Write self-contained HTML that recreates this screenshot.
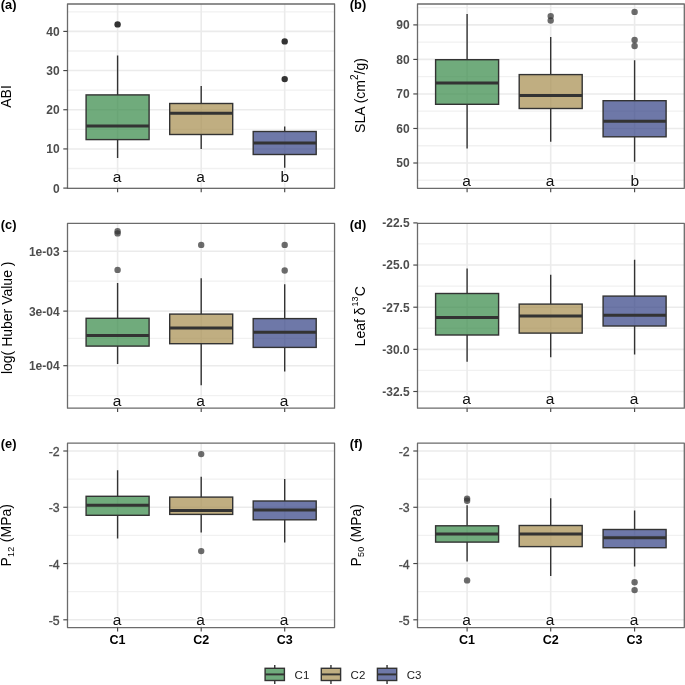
<!DOCTYPE html>
<html><head><meta charset="utf-8"><style>
html,body{margin:0;padding:0;background:#fff;}
svg{display:block;font-family:"Liberation Sans", sans-serif;will-change:transform;}
</style></head><body>
<svg width="685" height="685" viewBox="0 0 685 685">
<rect width="685" height="685" fill="#fff"/>
<clipPath id="cpa"><rect x="67.5" y="4.0" width="267.05" height="184.35"/></clipPath>
<g clip-path="url(#cpa)">
<line x1="67.5" x2="334.55" y1="168.51" y2="168.51" stroke="#f1f1f1" stroke-width="1.3"/>
<line x1="67.5" x2="334.55" y1="129.34" y2="129.34" stroke="#f1f1f1" stroke-width="1.3"/>
<line x1="67.5" x2="334.55" y1="90.16" y2="90.16" stroke="#f1f1f1" stroke-width="1.3"/>
<line x1="67.5" x2="334.55" y1="50.99" y2="50.99" stroke="#f1f1f1" stroke-width="1.3"/>
<line x1="67.5" x2="334.55" y1="11.81" y2="11.81" stroke="#f1f1f1" stroke-width="1.3"/>
<line x1="67.5" x2="334.55" y1="188.10" y2="188.10" stroke="#ebebeb" stroke-width="1.6"/>
<line x1="67.5" x2="334.55" y1="148.93" y2="148.93" stroke="#ebebeb" stroke-width="1.6"/>
<line x1="67.5" x2="334.55" y1="109.75" y2="109.75" stroke="#ebebeb" stroke-width="1.6"/>
<line x1="67.5" x2="334.55" y1="70.57" y2="70.57" stroke="#ebebeb" stroke-width="1.6"/>
<line x1="67.5" x2="334.55" y1="31.40" y2="31.40" stroke="#ebebeb" stroke-width="1.6"/>
<line x1="117.6" x2="117.6" y1="4.0" y2="188.35" stroke="#ebebeb" stroke-width="1.6"/>
<line x1="201.2" x2="201.2" y1="4.0" y2="188.35" stroke="#ebebeb" stroke-width="1.6"/>
<line x1="284.7" x2="284.7" y1="4.0" y2="188.35" stroke="#ebebeb" stroke-width="1.6"/>
<line x1="117.6" x2="117.6" y1="55.6" y2="94.9" stroke="#333333" stroke-width="1.4"/>
<line x1="117.6" x2="117.6" y1="139.6" y2="158.0" stroke="#333333" stroke-width="1.4"/>
<rect x="86.10" y="94.9" width="63.0" height="44.70" fill="#338845" fill-opacity="0.7" stroke="#333333" stroke-width="1.4"/>
<line x1="86.10" x2="149.10" y1="125.9" y2="125.9" stroke="#333333" stroke-width="3.0"/>
<circle cx="117.6" cy="24.4" r="3.2" fill="#333333"/>
<text x="117.00" y="182.2" text-anchor="middle" font-size="15.5" fill="#111" stroke="#fff" stroke-width="2" paint-order="stroke">a</text>
<line x1="201.2" x2="201.2" y1="86.0" y2="103.5" stroke="#333333" stroke-width="1.4"/>
<line x1="201.2" x2="201.2" y1="134.5" y2="149.0" stroke="#333333" stroke-width="1.4"/>
<rect x="169.70" y="103.5" width="63.0" height="31.00" fill="#a58b4c" fill-opacity="0.7" stroke="#333333" stroke-width="1.4"/>
<line x1="169.70" x2="232.70" y1="113.2" y2="113.2" stroke="#333333" stroke-width="3.0"/>
<text x="200.60" y="182.2" text-anchor="middle" font-size="15.5" fill="#111" stroke="#fff" stroke-width="2" paint-order="stroke">a</text>
<line x1="284.7" x2="284.7" y1="126.4" y2="131.5" stroke="#333333" stroke-width="1.4"/>
<line x1="284.7" x2="284.7" y1="154.5" y2="167.8" stroke="#333333" stroke-width="1.4"/>
<rect x="253.20" y="131.5" width="63.0" height="23.00" fill="#303e83" fill-opacity="0.7" stroke="#333333" stroke-width="1.4"/>
<line x1="253.20" x2="316.20" y1="142.9" y2="142.9" stroke="#333333" stroke-width="3.0"/>
<circle cx="284.7" cy="41.4" r="3.2" fill="#333333"/>
<circle cx="284.7" cy="79.1" r="3.2" fill="#333333"/>
<text x="284.90" y="182.2" text-anchor="middle" font-size="15.5" fill="#111" stroke="#fff" stroke-width="2" paint-order="stroke">b</text>
</g>
<rect x="67.5" y="4.0" width="267.05" height="184.35" fill="none" stroke="#6b6b6b" stroke-width="1.3" stroke-linejoin="round"/>
<line x1="63.30" x2="67.5" y1="188.10" y2="188.10" stroke="#454545" stroke-width="1.15"/>
<text x="59.60" y="192.50" text-anchor="end" font-size="12" font-weight="bold" fill="#4d4d4d">0</text>
<line x1="63.30" x2="67.5" y1="148.93" y2="148.93" stroke="#454545" stroke-width="1.15"/>
<text x="59.60" y="153.33" text-anchor="end" font-size="12" font-weight="bold" fill="#4d4d4d">10</text>
<line x1="63.30" x2="67.5" y1="109.75" y2="109.75" stroke="#454545" stroke-width="1.15"/>
<text x="59.60" y="114.15" text-anchor="end" font-size="12" font-weight="bold" fill="#4d4d4d">20</text>
<line x1="63.30" x2="67.5" y1="70.57" y2="70.57" stroke="#454545" stroke-width="1.15"/>
<text x="59.60" y="74.97" text-anchor="end" font-size="12" font-weight="bold" fill="#4d4d4d">30</text>
<line x1="63.30" x2="67.5" y1="31.40" y2="31.40" stroke="#454545" stroke-width="1.15"/>
<text x="59.60" y="35.80" text-anchor="end" font-size="12" font-weight="bold" fill="#4d4d4d">40</text>
<line x1="117.6" x2="117.6" y1="188.35" y2="192.15" stroke="#454545" stroke-width="1.15"/>
<line x1="201.2" x2="201.2" y1="188.35" y2="192.15" stroke="#454545" stroke-width="1.15"/>
<line x1="284.7" x2="284.7" y1="188.35" y2="192.15" stroke="#454545" stroke-width="1.15"/>
<text x="0.8" y="9.20" font-size="12.8" font-weight="bold" fill="#000">(a)</text>
<clipPath id="cpb"><rect x="417.5" y="4.0" width="266.80" height="184.35"/></clipPath>
<g clip-path="url(#cpb)">
<line x1="417.5" x2="684.3" y1="180.26" y2="180.26" stroke="#f1f1f1" stroke-width="1.3"/>
<line x1="417.5" x2="684.3" y1="145.74" y2="145.74" stroke="#f1f1f1" stroke-width="1.3"/>
<line x1="417.5" x2="684.3" y1="111.21" y2="111.21" stroke="#f1f1f1" stroke-width="1.3"/>
<line x1="417.5" x2="684.3" y1="76.69" y2="76.69" stroke="#f1f1f1" stroke-width="1.3"/>
<line x1="417.5" x2="684.3" y1="42.16" y2="42.16" stroke="#f1f1f1" stroke-width="1.3"/>
<line x1="417.5" x2="684.3" y1="7.64" y2="7.64" stroke="#f1f1f1" stroke-width="1.3"/>
<line x1="417.5" x2="684.3" y1="163.00" y2="163.00" stroke="#ebebeb" stroke-width="1.6"/>
<line x1="417.5" x2="684.3" y1="128.47" y2="128.47" stroke="#ebebeb" stroke-width="1.6"/>
<line x1="417.5" x2="684.3" y1="93.95" y2="93.95" stroke="#ebebeb" stroke-width="1.6"/>
<line x1="417.5" x2="684.3" y1="59.42" y2="59.42" stroke="#ebebeb" stroke-width="1.6"/>
<line x1="417.5" x2="684.3" y1="24.90" y2="24.90" stroke="#ebebeb" stroke-width="1.6"/>
<line x1="467.1" x2="467.1" y1="4.0" y2="188.35" stroke="#ebebeb" stroke-width="1.6"/>
<line x1="550.7" x2="550.7" y1="4.0" y2="188.35" stroke="#ebebeb" stroke-width="1.6"/>
<line x1="634.6" x2="634.6" y1="4.0" y2="188.35" stroke="#ebebeb" stroke-width="1.6"/>
<line x1="467.1" x2="467.1" y1="13.9" y2="59.7" stroke="#333333" stroke-width="1.4"/>
<line x1="467.1" x2="467.1" y1="104.3" y2="148.4" stroke="#333333" stroke-width="1.4"/>
<rect x="435.60" y="59.7" width="63.0" height="44.60" fill="#338845" fill-opacity="0.7" stroke="#333333" stroke-width="1.4"/>
<line x1="435.60" x2="498.60" y1="83.0" y2="83.0" stroke="#333333" stroke-width="3.0"/>
<text x="466.50" y="186.0" text-anchor="middle" font-size="15.5" fill="#111" stroke="#fff" stroke-width="2" paint-order="stroke">a</text>
<line x1="550.7" x2="550.7" y1="36.9" y2="74.6" stroke="#333333" stroke-width="1.4"/>
<line x1="550.7" x2="550.7" y1="108.5" y2="141.7" stroke="#333333" stroke-width="1.4"/>
<rect x="519.20" y="74.6" width="63.0" height="33.90" fill="#a58b4c" fill-opacity="0.7" stroke="#333333" stroke-width="1.4"/>
<line x1="519.20" x2="582.20" y1="95.4" y2="95.4" stroke="#333333" stroke-width="3.0"/>
<circle cx="550.7" cy="16.1" r="3.2" fill="#333333" fill-opacity="0.72"/>
<circle cx="550.7" cy="20.5" r="3.2" fill="#333333" fill-opacity="0.72"/>
<text x="550.10" y="186.0" text-anchor="middle" font-size="15.5" fill="#111" stroke="#fff" stroke-width="2" paint-order="stroke">a</text>
<line x1="634.6" x2="634.6" y1="60.2" y2="100.7" stroke="#333333" stroke-width="1.4"/>
<line x1="634.6" x2="634.6" y1="136.8" y2="161.7" stroke="#333333" stroke-width="1.4"/>
<rect x="603.10" y="100.7" width="63.0" height="36.10" fill="#303e83" fill-opacity="0.7" stroke="#333333" stroke-width="1.4"/>
<line x1="603.10" x2="666.10" y1="121.2" y2="121.2" stroke="#333333" stroke-width="3.0"/>
<circle cx="634.6" cy="11.9" r="3.2" fill="#333333" fill-opacity="0.72"/>
<circle cx="634.6" cy="40.0" r="3.2" fill="#333333" fill-opacity="0.72"/>
<circle cx="634.6" cy="46.0" r="3.2" fill="#333333" fill-opacity="0.72"/>
<text x="634.80" y="186.0" text-anchor="middle" font-size="15.5" fill="#111" stroke="#fff" stroke-width="2" paint-order="stroke">b</text>
</g>
<rect x="417.5" y="4.0" width="266.80" height="184.35" fill="none" stroke="#6b6b6b" stroke-width="1.3" stroke-linejoin="round"/>
<line x1="413.30" x2="417.5" y1="163.00" y2="163.00" stroke="#454545" stroke-width="1.15"/>
<text x="409.60" y="167.40" text-anchor="end" font-size="12" font-weight="bold" fill="#4d4d4d">50</text>
<line x1="413.30" x2="417.5" y1="128.47" y2="128.47" stroke="#454545" stroke-width="1.15"/>
<text x="409.60" y="132.88" text-anchor="end" font-size="12" font-weight="bold" fill="#4d4d4d">60</text>
<line x1="413.30" x2="417.5" y1="93.95" y2="93.95" stroke="#454545" stroke-width="1.15"/>
<text x="409.60" y="98.35" text-anchor="end" font-size="12" font-weight="bold" fill="#4d4d4d">70</text>
<line x1="413.30" x2="417.5" y1="59.42" y2="59.42" stroke="#454545" stroke-width="1.15"/>
<text x="409.60" y="63.82" text-anchor="end" font-size="12" font-weight="bold" fill="#4d4d4d">80</text>
<line x1="413.30" x2="417.5" y1="24.90" y2="24.90" stroke="#454545" stroke-width="1.15"/>
<text x="409.60" y="29.30" text-anchor="end" font-size="12" font-weight="bold" fill="#4d4d4d">90</text>
<line x1="467.1" x2="467.1" y1="188.35" y2="192.15" stroke="#454545" stroke-width="1.15"/>
<line x1="550.7" x2="550.7" y1="188.35" y2="192.15" stroke="#454545" stroke-width="1.15"/>
<line x1="634.6" x2="634.6" y1="188.35" y2="192.15" stroke="#454545" stroke-width="1.15"/>
<text x="349.8" y="9.20" font-size="12.8" font-weight="bold" fill="#000">(b)</text>
<clipPath id="cpc"><rect x="67.5" y="223.4" width="267.05" height="184.80"/></clipPath>
<g clip-path="url(#cpc)">
<line x1="67.5" x2="334.55" y1="281.20" y2="281.20" stroke="#f1f1f1" stroke-width="1.3"/>
<line x1="67.5" x2="334.55" y1="338.40" y2="338.40" stroke="#f1f1f1" stroke-width="1.3"/>
<line x1="67.5" x2="334.55" y1="395.60" y2="395.60" stroke="#f1f1f1" stroke-width="1.3"/>
<line x1="67.5" x2="334.55" y1="251.30" y2="251.30" stroke="#ebebeb" stroke-width="1.6"/>
<line x1="67.5" x2="334.55" y1="311.12" y2="311.12" stroke="#ebebeb" stroke-width="1.6"/>
<line x1="67.5" x2="334.55" y1="365.70" y2="365.70" stroke="#ebebeb" stroke-width="1.6"/>
<line x1="117.6" x2="117.6" y1="223.4" y2="408.2" stroke="#ebebeb" stroke-width="1.6"/>
<line x1="201.2" x2="201.2" y1="223.4" y2="408.2" stroke="#ebebeb" stroke-width="1.6"/>
<line x1="284.7" x2="284.7" y1="223.4" y2="408.2" stroke="#ebebeb" stroke-width="1.6"/>
<line x1="117.6" x2="117.6" y1="283.0" y2="318.3" stroke="#333333" stroke-width="1.4"/>
<line x1="117.6" x2="117.6" y1="346.1" y2="363.9" stroke="#333333" stroke-width="1.4"/>
<rect x="86.10" y="318.3" width="63.0" height="27.80" fill="#338845" fill-opacity="0.7" stroke="#333333" stroke-width="1.4"/>
<line x1="86.10" x2="149.10" y1="335.5" y2="335.5" stroke="#333333" stroke-width="3.0"/>
<circle cx="117.6" cy="231.3" r="3.2" fill="#333333" fill-opacity="0.72"/>
<circle cx="117.6" cy="233.4" r="3.2" fill="#333333" fill-opacity="0.72"/>
<circle cx="117.6" cy="269.9" r="3.2" fill="#333333" fill-opacity="0.72"/>
<text x="117.00" y="405.6" text-anchor="middle" font-size="15.5" fill="#111" stroke="#fff" stroke-width="2" paint-order="stroke">a</text>
<line x1="201.2" x2="201.2" y1="278.2" y2="314.1" stroke="#333333" stroke-width="1.4"/>
<line x1="201.2" x2="201.2" y1="343.7" y2="385.2" stroke="#333333" stroke-width="1.4"/>
<rect x="169.70" y="314.1" width="63.0" height="29.60" fill="#a58b4c" fill-opacity="0.7" stroke="#333333" stroke-width="1.4"/>
<line x1="169.70" x2="232.70" y1="328.0" y2="328.0" stroke="#333333" stroke-width="3.0"/>
<circle cx="201.2" cy="244.9" r="3.2" fill="#333333" fill-opacity="0.72"/>
<text x="200.60" y="405.6" text-anchor="middle" font-size="15.5" fill="#111" stroke="#fff" stroke-width="2" paint-order="stroke">a</text>
<line x1="284.7" x2="284.7" y1="284.2" y2="318.6" stroke="#333333" stroke-width="1.4"/>
<line x1="284.7" x2="284.7" y1="347.4" y2="371.6" stroke="#333333" stroke-width="1.4"/>
<rect x="253.20" y="318.6" width="63.0" height="28.80" fill="#303e83" fill-opacity="0.7" stroke="#333333" stroke-width="1.4"/>
<line x1="253.20" x2="316.20" y1="332.3" y2="332.3" stroke="#333333" stroke-width="3.0"/>
<circle cx="284.7" cy="244.9" r="3.2" fill="#333333" fill-opacity="0.72"/>
<circle cx="284.7" cy="270.5" r="3.2" fill="#333333" fill-opacity="0.72"/>
<text x="284.10" y="405.6" text-anchor="middle" font-size="15.5" fill="#111" stroke="#fff" stroke-width="2" paint-order="stroke">a</text>
</g>
<rect x="67.5" y="223.4" width="267.05" height="184.80" fill="none" stroke="#6b6b6b" stroke-width="1.3" stroke-linejoin="round"/>
<line x1="63.30" x2="67.5" y1="251.30" y2="251.30" stroke="#454545" stroke-width="1.15"/>
<text x="59.60" y="255.70" text-anchor="end" font-size="12" font-weight="bold" fill="#4d4d4d">1e-03</text>
<line x1="63.30" x2="67.5" y1="311.12" y2="311.12" stroke="#454545" stroke-width="1.15"/>
<text x="59.60" y="315.52" text-anchor="end" font-size="12" font-weight="bold" fill="#4d4d4d">3e-04</text>
<line x1="63.30" x2="67.5" y1="365.70" y2="365.70" stroke="#454545" stroke-width="1.15"/>
<text x="59.60" y="370.10" text-anchor="end" font-size="12" font-weight="bold" fill="#4d4d4d">1e-04</text>
<line x1="117.6" x2="117.6" y1="408.2" y2="412.00" stroke="#454545" stroke-width="1.15"/>
<line x1="201.2" x2="201.2" y1="408.2" y2="412.00" stroke="#454545" stroke-width="1.15"/>
<line x1="284.7" x2="284.7" y1="408.2" y2="412.00" stroke="#454545" stroke-width="1.15"/>
<text x="0.8" y="228.60" font-size="12.8" font-weight="bold" fill="#000">(c)</text>
<clipPath id="cpd"><rect x="417.5" y="223.4" width="266.80" height="184.80"/></clipPath>
<g clip-path="url(#cpd)">
<line x1="417.5" x2="684.3" y1="243.97" y2="243.97" stroke="#f1f1f1" stroke-width="1.3"/>
<line x1="417.5" x2="684.3" y1="286.12" y2="286.12" stroke="#f1f1f1" stroke-width="1.3"/>
<line x1="417.5" x2="684.3" y1="328.27" y2="328.27" stroke="#f1f1f1" stroke-width="1.3"/>
<line x1="417.5" x2="684.3" y1="370.43" y2="370.43" stroke="#f1f1f1" stroke-width="1.3"/>
<line x1="417.5" x2="684.3" y1="222.90" y2="222.90" stroke="#ebebeb" stroke-width="1.6"/>
<line x1="417.5" x2="684.3" y1="265.05" y2="265.05" stroke="#ebebeb" stroke-width="1.6"/>
<line x1="417.5" x2="684.3" y1="307.20" y2="307.20" stroke="#ebebeb" stroke-width="1.6"/>
<line x1="417.5" x2="684.3" y1="349.35" y2="349.35" stroke="#ebebeb" stroke-width="1.6"/>
<line x1="417.5" x2="684.3" y1="391.50" y2="391.50" stroke="#ebebeb" stroke-width="1.6"/>
<line x1="467.1" x2="467.1" y1="223.4" y2="408.2" stroke="#ebebeb" stroke-width="1.6"/>
<line x1="550.7" x2="550.7" y1="223.4" y2="408.2" stroke="#ebebeb" stroke-width="1.6"/>
<line x1="634.6" x2="634.6" y1="223.4" y2="408.2" stroke="#ebebeb" stroke-width="1.6"/>
<line x1="467.1" x2="467.1" y1="268.4" y2="293.5" stroke="#333333" stroke-width="1.4"/>
<line x1="467.1" x2="467.1" y1="335.0" y2="361.8" stroke="#333333" stroke-width="1.4"/>
<rect x="435.60" y="293.5" width="63.0" height="41.50" fill="#338845" fill-opacity="0.7" stroke="#333333" stroke-width="1.4"/>
<line x1="435.60" x2="498.60" y1="317.4" y2="317.4" stroke="#333333" stroke-width="3.0"/>
<text x="466.50" y="404.0" text-anchor="middle" font-size="15.5" fill="#111" stroke="#fff" stroke-width="2" paint-order="stroke">a</text>
<line x1="550.7" x2="550.7" y1="274.8" y2="304.1" stroke="#333333" stroke-width="1.4"/>
<line x1="550.7" x2="550.7" y1="333.1" y2="357.3" stroke="#333333" stroke-width="1.4"/>
<rect x="519.20" y="304.1" width="63.0" height="29.00" fill="#a58b4c" fill-opacity="0.7" stroke="#333333" stroke-width="1.4"/>
<line x1="519.20" x2="582.20" y1="316.1" y2="316.1" stroke="#333333" stroke-width="3.0"/>
<text x="550.10" y="404.0" text-anchor="middle" font-size="15.5" fill="#111" stroke="#fff" stroke-width="2" paint-order="stroke">a</text>
<line x1="634.6" x2="634.6" y1="259.7" y2="296.1" stroke="#333333" stroke-width="1.4"/>
<line x1="634.6" x2="634.6" y1="326.0" y2="354.5" stroke="#333333" stroke-width="1.4"/>
<rect x="603.10" y="296.1" width="63.0" height="29.90" fill="#303e83" fill-opacity="0.7" stroke="#333333" stroke-width="1.4"/>
<line x1="603.10" x2="666.10" y1="315.2" y2="315.2" stroke="#333333" stroke-width="3.0"/>
<text x="634.00" y="404.0" text-anchor="middle" font-size="15.5" fill="#111" stroke="#fff" stroke-width="2" paint-order="stroke">a</text>
</g>
<rect x="417.5" y="223.4" width="266.80" height="184.80" fill="none" stroke="#6b6b6b" stroke-width="1.3" stroke-linejoin="round"/>
<line x1="413.30" x2="417.5" y1="222.90" y2="222.90" stroke="#454545" stroke-width="1.15"/>
<text x="409.60" y="227.30" text-anchor="end" font-size="12" font-weight="bold" fill="#4d4d4d">-22.5</text>
<line x1="413.30" x2="417.5" y1="265.05" y2="265.05" stroke="#454545" stroke-width="1.15"/>
<text x="409.60" y="269.45" text-anchor="end" font-size="12" font-weight="bold" fill="#4d4d4d">-25.0</text>
<line x1="413.30" x2="417.5" y1="307.20" y2="307.20" stroke="#454545" stroke-width="1.15"/>
<text x="409.60" y="311.60" text-anchor="end" font-size="12" font-weight="bold" fill="#4d4d4d">-27.5</text>
<line x1="413.30" x2="417.5" y1="349.35" y2="349.35" stroke="#454545" stroke-width="1.15"/>
<text x="409.60" y="353.75" text-anchor="end" font-size="12" font-weight="bold" fill="#4d4d4d">-30.0</text>
<line x1="413.30" x2="417.5" y1="391.50" y2="391.50" stroke="#454545" stroke-width="1.15"/>
<text x="409.60" y="395.90" text-anchor="end" font-size="12" font-weight="bold" fill="#4d4d4d">-32.5</text>
<line x1="467.1" x2="467.1" y1="408.2" y2="412.00" stroke="#454545" stroke-width="1.15"/>
<line x1="550.7" x2="550.7" y1="408.2" y2="412.00" stroke="#454545" stroke-width="1.15"/>
<line x1="634.6" x2="634.6" y1="408.2" y2="412.00" stroke="#454545" stroke-width="1.15"/>
<text x="349.8" y="228.60" font-size="12.8" font-weight="bold" fill="#000">(d)</text>
<clipPath id="cpe"><rect x="67.5" y="443.2" width="267.05" height="184.40"/></clipPath>
<g clip-path="url(#cpe)">
<line x1="67.5" x2="334.55" y1="479.13" y2="479.13" stroke="#f1f1f1" stroke-width="1.3"/>
<line x1="67.5" x2="334.55" y1="535.40" y2="535.40" stroke="#f1f1f1" stroke-width="1.3"/>
<line x1="67.5" x2="334.55" y1="591.67" y2="591.67" stroke="#f1f1f1" stroke-width="1.3"/>
<line x1="67.5" x2="334.55" y1="451.00" y2="451.00" stroke="#ebebeb" stroke-width="1.6"/>
<line x1="67.5" x2="334.55" y1="507.27" y2="507.27" stroke="#ebebeb" stroke-width="1.6"/>
<line x1="67.5" x2="334.55" y1="563.54" y2="563.54" stroke="#ebebeb" stroke-width="1.6"/>
<line x1="67.5" x2="334.55" y1="619.81" y2="619.81" stroke="#ebebeb" stroke-width="1.6"/>
<line x1="117.6" x2="117.6" y1="443.2" y2="627.6" stroke="#ebebeb" stroke-width="1.6"/>
<line x1="201.2" x2="201.2" y1="443.2" y2="627.6" stroke="#ebebeb" stroke-width="1.6"/>
<line x1="284.7" x2="284.7" y1="443.2" y2="627.6" stroke="#ebebeb" stroke-width="1.6"/>
<line x1="117.6" x2="117.6" y1="470.3" y2="496.3" stroke="#333333" stroke-width="1.4"/>
<line x1="117.6" x2="117.6" y1="515.3" y2="538.6" stroke="#333333" stroke-width="1.4"/>
<rect x="86.10" y="496.3" width="63.0" height="19.00" fill="#338845" fill-opacity="0.7" stroke="#333333" stroke-width="1.4"/>
<line x1="86.10" x2="149.10" y1="505.3" y2="505.3" stroke="#333333" stroke-width="3.0"/>
<text x="117.00" y="625.4" text-anchor="middle" font-size="15.5" fill="#111" stroke="#fff" stroke-width="2" paint-order="stroke">a</text>
<line x1="201.2" x2="201.2" y1="476.8" y2="497.1" stroke="#333333" stroke-width="1.4"/>
<line x1="201.2" x2="201.2" y1="514.4" y2="532.6" stroke="#333333" stroke-width="1.4"/>
<rect x="169.70" y="497.1" width="63.0" height="17.30" fill="#a58b4c" fill-opacity="0.7" stroke="#333333" stroke-width="1.4"/>
<line x1="169.70" x2="232.70" y1="510.4" y2="510.4" stroke="#333333" stroke-width="3.0"/>
<circle cx="201.2" cy="454.1" r="3.2" fill="#333333" fill-opacity="0.72"/>
<circle cx="201.2" cy="551.1" r="3.2" fill="#333333" fill-opacity="0.72"/>
<text x="200.60" y="625.4" text-anchor="middle" font-size="15.5" fill="#111" stroke="#fff" stroke-width="2" paint-order="stroke">a</text>
<line x1="284.7" x2="284.7" y1="479.1" y2="501.0" stroke="#333333" stroke-width="1.4"/>
<line x1="284.7" x2="284.7" y1="519.8" y2="542.6" stroke="#333333" stroke-width="1.4"/>
<rect x="253.20" y="501.0" width="63.0" height="18.80" fill="#303e83" fill-opacity="0.7" stroke="#333333" stroke-width="1.4"/>
<line x1="253.20" x2="316.20" y1="510.1" y2="510.1" stroke="#333333" stroke-width="3.0"/>
<text x="284.10" y="625.4" text-anchor="middle" font-size="15.5" fill="#111" stroke="#fff" stroke-width="2" paint-order="stroke">a</text>
</g>
<rect x="67.5" y="443.2" width="267.05" height="184.40" fill="none" stroke="#6b6b6b" stroke-width="1.3" stroke-linejoin="round"/>
<line x1="63.30" x2="67.5" y1="451.00" y2="451.00" stroke="#454545" stroke-width="1.15"/>
<text x="59.60" y="456.10" text-anchor="end" font-size="12.3" fill="#4d4d4d" stroke="#4d4d4d" stroke-width="0.35">-2</text>
<line x1="63.30" x2="67.5" y1="507.27" y2="507.27" stroke="#454545" stroke-width="1.15"/>
<text x="59.60" y="512.37" text-anchor="end" font-size="12.3" fill="#4d4d4d" stroke="#4d4d4d" stroke-width="0.35">-3</text>
<line x1="63.30" x2="67.5" y1="563.54" y2="563.54" stroke="#454545" stroke-width="1.15"/>
<text x="59.60" y="568.64" text-anchor="end" font-size="12.3" fill="#4d4d4d" stroke="#4d4d4d" stroke-width="0.35">-4</text>
<line x1="63.30" x2="67.5" y1="619.81" y2="619.81" stroke="#454545" stroke-width="1.15"/>
<text x="59.60" y="624.91" text-anchor="end" font-size="12.3" fill="#4d4d4d" stroke="#4d4d4d" stroke-width="0.35">-5</text>
<line x1="117.6" x2="117.6" y1="627.6" y2="631.40" stroke="#454545" stroke-width="1.15"/>
<line x1="201.2" x2="201.2" y1="627.6" y2="631.40" stroke="#454545" stroke-width="1.15"/>
<line x1="284.7" x2="284.7" y1="627.6" y2="631.40" stroke="#454545" stroke-width="1.15"/>
<text x="0.8" y="448.40" font-size="12.8" font-weight="bold" fill="#000">(e)</text>
<clipPath id="cpf"><rect x="417.5" y="443.2" width="266.80" height="184.40"/></clipPath>
<g clip-path="url(#cpf)">
<line x1="417.5" x2="684.3" y1="479.13" y2="479.13" stroke="#f1f1f1" stroke-width="1.3"/>
<line x1="417.5" x2="684.3" y1="535.40" y2="535.40" stroke="#f1f1f1" stroke-width="1.3"/>
<line x1="417.5" x2="684.3" y1="591.67" y2="591.67" stroke="#f1f1f1" stroke-width="1.3"/>
<line x1="417.5" x2="684.3" y1="451.00" y2="451.00" stroke="#ebebeb" stroke-width="1.6"/>
<line x1="417.5" x2="684.3" y1="507.27" y2="507.27" stroke="#ebebeb" stroke-width="1.6"/>
<line x1="417.5" x2="684.3" y1="563.54" y2="563.54" stroke="#ebebeb" stroke-width="1.6"/>
<line x1="417.5" x2="684.3" y1="619.81" y2="619.81" stroke="#ebebeb" stroke-width="1.6"/>
<line x1="467.1" x2="467.1" y1="443.2" y2="627.6" stroke="#ebebeb" stroke-width="1.6"/>
<line x1="550.7" x2="550.7" y1="443.2" y2="627.6" stroke="#ebebeb" stroke-width="1.6"/>
<line x1="634.6" x2="634.6" y1="443.2" y2="627.6" stroke="#ebebeb" stroke-width="1.6"/>
<line x1="467.1" x2="467.1" y1="505.3" y2="525.8" stroke="#333333" stroke-width="1.4"/>
<line x1="467.1" x2="467.1" y1="542.1" y2="561.4" stroke="#333333" stroke-width="1.4"/>
<rect x="435.60" y="525.8" width="63.0" height="16.30" fill="#338845" fill-opacity="0.7" stroke="#333333" stroke-width="1.4"/>
<line x1="435.60" x2="498.60" y1="533.9" y2="533.9" stroke="#333333" stroke-width="3.0"/>
<circle cx="467.1" cy="498.6" r="3.2" fill="#333333" fill-opacity="0.72"/>
<circle cx="467.1" cy="500.7" r="3.2" fill="#333333" fill-opacity="0.72"/>
<circle cx="467.1" cy="580.4" r="3.2" fill="#333333" fill-opacity="0.72"/>
<text x="466.50" y="625.0" text-anchor="middle" font-size="15.5" fill="#111" stroke="#fff" stroke-width="2" paint-order="stroke">a</text>
<line x1="550.7" x2="550.7" y1="498.2" y2="525.5" stroke="#333333" stroke-width="1.4"/>
<line x1="550.7" x2="550.7" y1="546.6" y2="575.9" stroke="#333333" stroke-width="1.4"/>
<rect x="519.20" y="525.5" width="63.0" height="21.10" fill="#a58b4c" fill-opacity="0.7" stroke="#333333" stroke-width="1.4"/>
<line x1="519.20" x2="582.20" y1="534.1" y2="534.1" stroke="#333333" stroke-width="3.0"/>
<text x="550.10" y="625.0" text-anchor="middle" font-size="15.5" fill="#111" stroke="#fff" stroke-width="2" paint-order="stroke">a</text>
<line x1="634.6" x2="634.6" y1="510.4" y2="529.5" stroke="#333333" stroke-width="1.4"/>
<line x1="634.6" x2="634.6" y1="547.7" y2="566.5" stroke="#333333" stroke-width="1.4"/>
<rect x="603.10" y="529.5" width="63.0" height="18.20" fill="#303e83" fill-opacity="0.7" stroke="#333333" stroke-width="1.4"/>
<line x1="603.10" x2="666.10" y1="537.7" y2="537.7" stroke="#333333" stroke-width="3.0"/>
<circle cx="634.6" cy="582.2" r="3.2" fill="#333333" fill-opacity="0.72"/>
<circle cx="634.6" cy="590.1" r="3.2" fill="#333333" fill-opacity="0.72"/>
<text x="634.00" y="625.0" text-anchor="middle" font-size="15.5" fill="#111" stroke="#fff" stroke-width="2" paint-order="stroke">a</text>
</g>
<rect x="417.5" y="443.2" width="266.80" height="184.40" fill="none" stroke="#6b6b6b" stroke-width="1.3" stroke-linejoin="round"/>
<line x1="413.30" x2="417.5" y1="451.00" y2="451.00" stroke="#454545" stroke-width="1.15"/>
<text x="409.60" y="456.10" text-anchor="end" font-size="12.3" fill="#4d4d4d" stroke="#4d4d4d" stroke-width="0.35">-2</text>
<line x1="413.30" x2="417.5" y1="507.27" y2="507.27" stroke="#454545" stroke-width="1.15"/>
<text x="409.60" y="512.37" text-anchor="end" font-size="12.3" fill="#4d4d4d" stroke="#4d4d4d" stroke-width="0.35">-3</text>
<line x1="413.30" x2="417.5" y1="563.54" y2="563.54" stroke="#454545" stroke-width="1.15"/>
<text x="409.60" y="568.64" text-anchor="end" font-size="12.3" fill="#4d4d4d" stroke="#4d4d4d" stroke-width="0.35">-4</text>
<line x1="413.30" x2="417.5" y1="619.81" y2="619.81" stroke="#454545" stroke-width="1.15"/>
<text x="409.60" y="624.91" text-anchor="end" font-size="12.3" fill="#4d4d4d" stroke="#4d4d4d" stroke-width="0.35">-5</text>
<line x1="467.1" x2="467.1" y1="627.6" y2="631.40" stroke="#454545" stroke-width="1.15"/>
<line x1="550.7" x2="550.7" y1="627.6" y2="631.40" stroke="#454545" stroke-width="1.15"/>
<line x1="634.6" x2="634.6" y1="627.6" y2="631.40" stroke="#454545" stroke-width="1.15"/>
<text x="349.8" y="448.40" font-size="12.8" font-weight="bold" fill="#000">(f)</text>
<text transform="translate(11.2,96.5) rotate(-90)" text-anchor="middle" font-size="14" fill="#000">ABI</text>
<text transform="translate(364.6,95.5) rotate(-90)" text-anchor="middle" font-size="14" fill="#000">SLA (cm<tspan dy="-7" font-size="10">2</tspan><tspan dy="7">/g)</tspan></text>
<text transform="translate(12.4,317.8) rotate(-90)" text-anchor="middle" font-size="14" fill="#000">log( Huber Value )</text>
<text transform="translate(365.2,316.2) rotate(-90)" text-anchor="middle" font-size="14" fill="#000">Leaf δ<tspan dx="1" dy="-7.2" font-size="9">13</tspan><tspan dx="0.3" dy="7.2">C</tspan></text>
<text transform="translate(11.2,535.3) rotate(-90)" text-anchor="middle" font-size="14" fill="#000">P<tspan dx="0.3" dy="3" font-size="9">12</tspan><tspan dx="0.8" dy="-3"> (MPa)</tspan></text>
<text transform="translate(360.8,535.3) rotate(-90)" text-anchor="middle" font-size="14" fill="#000">P<tspan dx="0.3" dy="3" font-size="9">50</tspan><tspan dx="0.8" dy="-3"> (MPa)</tspan></text>
<text x="117.6" y="643.6" text-anchor="middle" font-size="12.5" font-weight="bold" fill="#000">C1</text>
<text x="201.2" y="643.6" text-anchor="middle" font-size="12.5" font-weight="bold" fill="#000">C2</text>
<text x="284.7" y="643.6" text-anchor="middle" font-size="12.5" font-weight="bold" fill="#000">C3</text>
<text x="467.1" y="643.6" text-anchor="middle" font-size="12.5" font-weight="bold" fill="#000">C1</text>
<text x="550.7" y="643.6" text-anchor="middle" font-size="12.5" font-weight="bold" fill="#000">C2</text>
<text x="634.6" y="643.6" text-anchor="middle" font-size="12.5" font-weight="bold" fill="#000">C3</text>
<line x1="274.75" x2="274.75" y1="664.9" y2="684" stroke="#333333" stroke-width="1.4"/>
<rect x="265.1" y="668.3" width="19.3" height="12.2" fill="#70ac7d" stroke="#333333" stroke-width="1.4"/>
<line x1="265.1" x2="284.40" y1="674.4" y2="674.4" stroke="#333333" stroke-width="1.9"/>
<text x="294.60" y="679.2" font-size="11.5" fill="#1a1a1a">C1</text>
<line x1="330.95" x2="330.95" y1="664.9" y2="684" stroke="#333333" stroke-width="1.4"/>
<rect x="321.3" y="668.3" width="19.3" height="12.2" fill="#c0ae82" stroke="#333333" stroke-width="1.4"/>
<line x1="321.3" x2="340.60" y1="674.4" y2="674.4" stroke="#333333" stroke-width="1.9"/>
<text x="350.60" y="679.2" font-size="11.5" fill="#1a1a1a">C2</text>
<line x1="387.05" x2="387.05" y1="664.9" y2="684" stroke="#333333" stroke-width="1.4"/>
<rect x="377.4" y="668.3" width="19.3" height="12.2" fill="#6e78a8" stroke="#333333" stroke-width="1.4"/>
<line x1="377.4" x2="396.70" y1="674.4" y2="674.4" stroke="#333333" stroke-width="1.9"/>
<text x="406.80" y="679.2" font-size="11.5" fill="#1a1a1a">C3</text>
</svg>
</body></html>
